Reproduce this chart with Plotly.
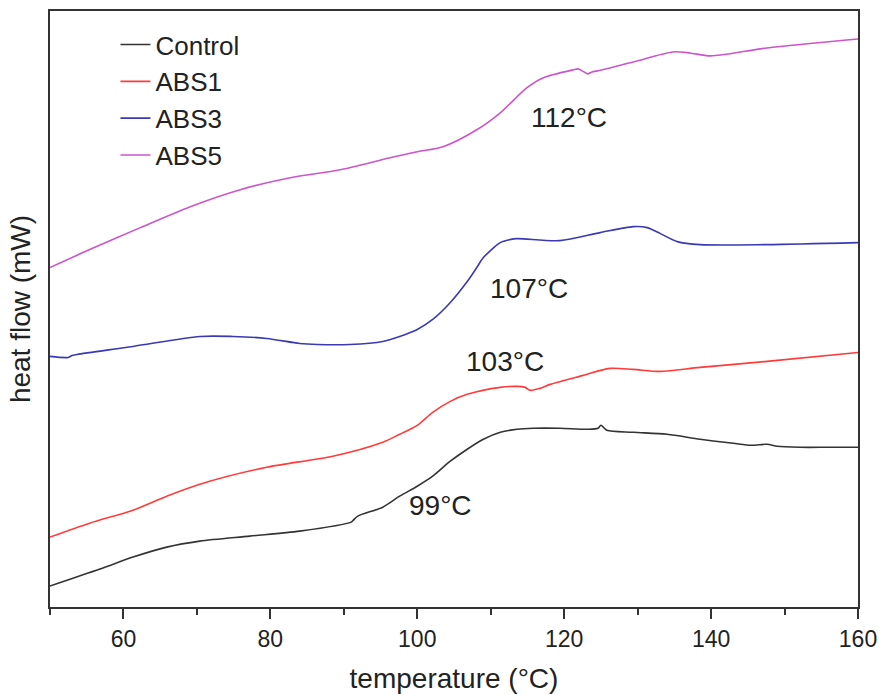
import plotly.graph_objects as go

# Temperatures (°C) and heat flow (arbitrary units, offset curves)
control_T = [50.0, 56.8, 61.3, 65.9, 70.4, 77.2, 84.0, 91.0, 91.3, 91.9, 95.3, 97.6, 100.0, 102.1,
             104.5, 106.8, 109.0, 111.3, 113.6, 115.8, 119.4, 123.2, 124.6, 125.0, 125.8, 129.4,
             134.0, 138.5, 143.0, 145.5, 147.6, 149.0, 152.1, 156.0, 160.0]
control_H = [0.21, 0.38, 0.50, 0.60, 0.66, 0.71, 0.76, 0.85, 0.87, 0.91, 1.00, 1.11, 1.21, 1.31,
             1.46, 1.58, 1.68, 1.75, 1.78, 1.79, 1.79, 1.78, 1.79, 1.82, 1.77, 1.75,
             1.73, 1.68, 1.64, 1.62, 1.63, 1.61, 1.60, 1.60, 1.60]

abs1_T = [50.0, 55.4, 61.3, 65.9, 70.4, 79.5, 88.5, 95.3, 97.6, 100.0, 102.1, 104.5, 106.8, 111.3,
          113.6, 114.7, 115.4, 116.7, 118.1, 122.6, 126.2, 129.4, 133.1, 138.5, 147.6, 160.0]
abs1_H = [0.70, 0.84, 0.97, 1.11, 1.23, 1.40, 1.51, 1.65, 1.73, 1.82, 1.95, 2.06, 2.13, 2.20,
          2.21, 2.20, 2.17, 2.19, 2.23, 2.32, 2.39, 2.38, 2.36, 2.40, 2.46, 2.55]

abs3_T = [50.0, 52.5, 53.0, 53.7, 61.3, 70.4, 74.9, 79.5, 84.0, 86.4, 90.8, 95.3, 97.6, 100.0,
          102.1, 104.5, 106.8, 108.1, 109.0, 111.3, 112.6, 113.6, 119.4, 124.9, 129.4, 131.3,
          133.1, 135.4, 138.5, 147.6, 160.0]
abs3_H = [2.51, 2.50, 2.52, 2.53, 2.61, 2.71, 2.71, 2.69, 2.64, 2.63, 2.63, 2.66, 2.71, 2.78,
          2.88, 3.05, 3.26, 3.40, 3.50, 3.65, 3.68, 3.69, 3.67, 3.75, 3.81, 3.80,
          3.74, 3.66, 3.63, 3.63, 3.65]

abs5_T = [50.0, 55.4, 62.3, 69.1, 75.9, 82.7, 89.5, 96.3, 100.0, 103.5, 108.1, 111.3, 114.9, 117.1,
          121.2, 121.9, 122.7, 123.2, 123.8, 124.5, 129.4, 134.8, 137.1, 139.9, 147.6, 160.0]
abs5_H = [3.40, 3.58, 3.80, 4.01, 4.18, 4.30, 4.38, 4.50, 4.56, 4.61, 4.78, 4.95, 5.20, 5.30,
          5.38, 5.39, 5.36, 5.34, 5.36, 5.37, 5.46, 5.56, 5.55, 5.52, 5.60, 5.69]

series_names = ["Control", "ABS1", "ABS3", "ABS5"]
series_colors = ["#333333", "#ff3b3b", "#3a3ab4", "#cc55cc"]
x_tick_vals = [60, 80, 100, 120, 140, 160]
x_tick_text = ["60", "80", "100", "120", "140", "160"]
x_minor_vals = [50, 70, 90, 110, 130, 150]

label_texts = ["112°C", "107°C", "103°C", "99°C"]
label_T = [120.7, 115.2, 111.9, 103.2]
label_H = [4.90, 3.19, 2.46, 1.02]

data = [(control_T, control_H), (abs1_T, abs1_H), (abs3_T, abs3_H), (abs5_T, abs5_H)]

FONT = "Liberation Sans, Arial, sans-serif"

fig = go.Figure()
for (t, h), name, col in zip(data, series_names, series_colors):
    fig.add_trace(go.Scatter(x=t, y=h, mode="lines", name=name,
                             line=dict(color=col, width=1.6, shape="spline", smoothing=0.8)))

for txt, t, h in zip(label_texts, label_T, label_H):
    fig.add_annotation(x=t, y=h, text=txt, showarrow=False,
                       font=dict(size=28, color="#222222", family=FONT))

axis_col = "#333333"
fig.update_layout(
    width=879, height=695,
    margin=dict(l=50, r=21, t=11, b=88),
    paper_bgcolor="white", plot_bgcolor="white",
    font=dict(family=FONT, color="#222222"),
    showlegend=True,
    legend=dict(x=0.081, y=0.983, xanchor="left", yanchor="top",
                bgcolor="rgba(0,0,0,0)", font=dict(size=26, color="#222222"),
                tracegroupgap=0, itemwidth=30),
    xaxis=dict(range=[50, 160], tickvals=x_tick_vals, ticktext=x_tick_text,
               ticks="outside", ticklen=10, tickwidth=1.5, tickcolor=axis_col,
               ticklabelstandoff=0,
               minor=dict(tickvals=x_minor_vals, ticks="outside", ticklen=6,
                          tickwidth=1.5, tickcolor=axis_col),
               showline=True, linecolor=axis_col, linewidth=2, mirror=True,
               showgrid=False, zeroline=False, automargin=False,
               tickfont=dict(size=23, family=FONT),
               title=dict(text="temperature (°C)", font=dict(size=28), standoff=18)),
    yaxis=dict(range=[0, 5.97], showticklabels=False, ticks="",
               showline=True, linecolor=axis_col, linewidth=2, mirror=True,
               showgrid=False, zeroline=False, automargin=False,
               title=dict(text="heat flow (mW)", font=dict(size=28), standoff=9)),
)

fig.write_html("out.html", config={"displayModeBar": False},
               post_script="document.body.style.margin='0';")
